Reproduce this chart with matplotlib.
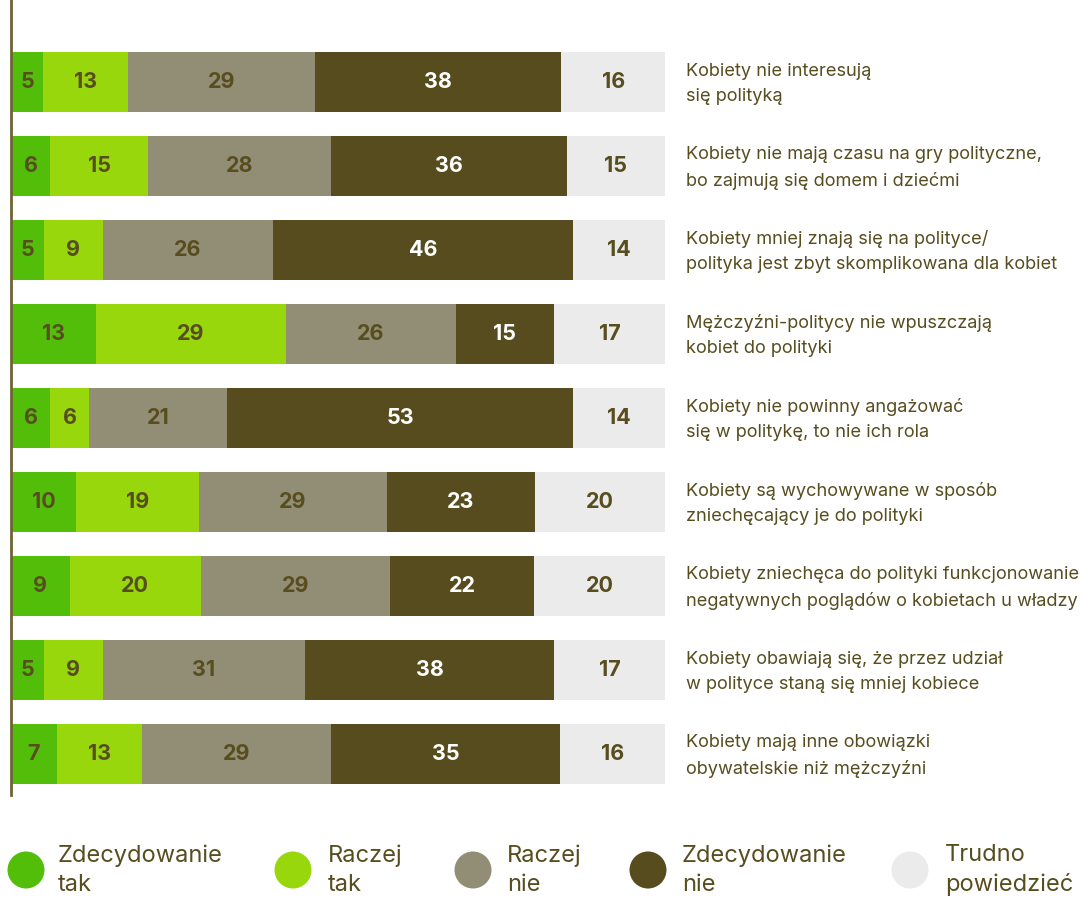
import matplotlib.pyplot as plt
from matplotlib.patches import Ellipse
import numpy as np

plt.rcParams['font.family'] = ['Inter', 'DejaVu Sans']

statements = [
    "Kobiety nie interesują\nsię polityką",
    "Kobiety nie mają czasu na gry polityczne,\nbo zajmują się domem i dziećmi",
    "Kobiety mniej znają się na polityce/\npolityka jest zbyt skomplikowana dla kobiet",
    "Mężczyźni-politycy nie wpuszczają\nkobiet do polityki",
    "Kobiety nie powinny angażować\nsię w politykę, to nie ich rola",
    "Kobiety są wychowywane w sposób\nzniechęcający je do polityki",
    "Kobiety zniechęca do polityki funkcjonowanie\nnegatywnych poglądów o kobietach u władzy",
    "Kobiety obawiają się, że przez udział\nw polityce staną się mniej kobiece",
    "Kobiety mają inne obowiązki\nobywatelskie niż mężczyźni",
]
zdecydowanie_tak = [5, 6, 5, 13, 6, 10, 9, 5, 7]
raczej_tak = [13, 15, 9, 29, 6, 19, 20, 9, 13]
raczej_nie = [29, 28, 26, 26, 21, 29, 29, 31, 29]
zdecydowanie_nie = [38, 36, 46, 15, 53, 23, 22, 38, 35]
trudno = [16, 15, 14, 17, 14, 20, 20, 17, 16]

legend_labels = ["Zdecydowanie\ntak", "Raczej\ntak", "Raczej\nnie", "Zdecydowanie\nnie", "Trudno\npowiedzieć"]
colors = ['#52be0a', '#97d70b', '#928e76', '#564c1e', '#ebebeb']
text_col = '#574d1f'

series = np.array([zdecydowanie_tak, raczej_tak, raczej_nie, zdecydowanie_nie, trudno], dtype=float)
# each row is stretched to the full width (rounded values don't always sum to 100)
shares = series / series.sum(axis=0) * 100

fig = plt.figure(figsize=(10.83, 9), dpi=100)
ax = fig.add_axes([11/1083, 1 - 795/900, 654/1083, 795/900])

y = np.arange(len(statements))
left = np.zeros(len(statements))
for k in range(5):
    ax.barh(y, shares[k], left=left, height=0.72, color=colors[k], linewidth=0)
    for i in range(len(statements)):
        c = 'white' if k == 3 else text_col
        ax.text(left[i] + shares[k][i] / 2, y[i], str(int(series[k][i])), ha='center', va='center',
                fontsize=15.5, fontweight='bold', color=c)
    left += shares[k]

for i, s in enumerate(statements):
    ax.text(103.2, y[i] + 0.02, s, ha='left', va='center', fontsize=13.1, color=text_col, linespacing=1.62,
            clip_on=False)

ax.set_xlim(0, 100)
ax.set_ylim((795 - 82) / 84, -82 / 84)
for sp in ['top', 'right', 'bottom']:
    ax.spines[sp].set_visible(False)
ax.spines['left'].set_color('#6e6435')
ax.spines['left'].set_linewidth(2)
ax.set_xticks([])
ax.set_yticks([])

# legend: circles with two-line labels
circle_x = [26, 293, 473, 648, 910]
label_x = [58, 328, 507, 682, 945]
for k in range(5):
    cy = 1 - 870 / 900
    fig.patches.append(Ellipse((circle_x[k] / 1083, cy), 37 / 1083, 37 / 900, transform=fig.transFigure,
                               color=colors[k], linewidth=0))
    fig.text(label_x[k] / 1083, cy, legend_labels[k], ha='left', va='center', fontsize=17,
             color=text_col, linespacing=1.44)

fig.savefig('out.png', dpi=100, facecolor='white')
